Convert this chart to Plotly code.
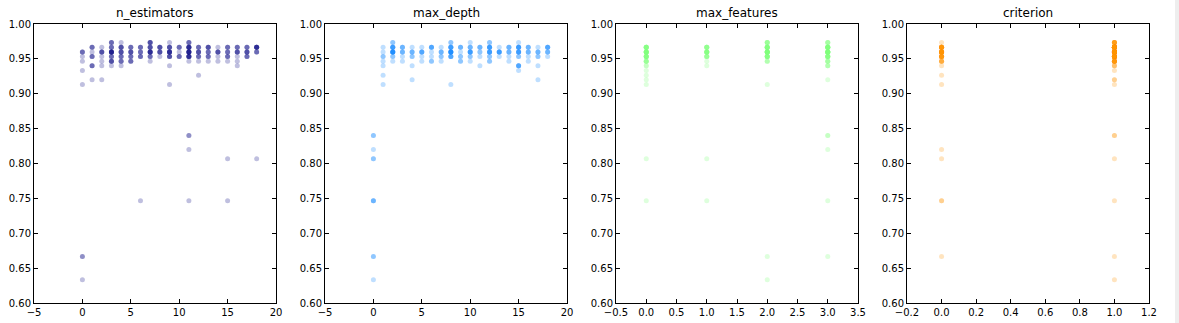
import plotly.graph_objects as go

# ---------------- data (x value, accuracy, number of overlapping trials) ----------------
n_est_x = [0, 0, 0, 0, 0, 0, 0,
           1, 1, 1, 1, 1,
           2, 2, 2, 2, 2, 2,
           3, 3, 3, 3, 3, 3,
           4, 4, 4, 4, 4, 4,
           5, 5, 5, 5,
           6, 6, 6, 6,
           7, 7, 7, 7, 7,
           8, 8, 8,
           9, 9, 9, 9, 9, 9,
           10, 10, 10,
           11, 11, 11, 11, 11, 11, 11, 11,
           12, 12, 12, 12, 12,
           13, 13, 13, 13,
           14, 14, 14, 14,
           15, 15, 15, 15, 15, 15,
           16, 16, 16, 16, 16,
           17, 17, 17,
           18, 18, 18]
n_est_acc = [0.96, 0.9533, 0.9467, 0.9333, 0.9133, 0.6667, 0.6333,
             0.9667, 0.96, 0.9533, 0.94, 0.92,
             0.9667, 0.96, 0.9533, 0.9467, 0.94, 0.92,
             0.9733, 0.9667, 0.96, 0.9533, 0.9467, 0.94,
             0.9733, 0.9667, 0.96, 0.9533, 0.9467, 0.94,
             0.9667, 0.96, 0.9533, 0.9467,
             0.9667, 0.96, 0.9533, 0.7467,
             0.9733, 0.9667, 0.96, 0.9533, 0.9467,
             0.9667, 0.96, 0.9533,
             0.9733, 0.9667, 0.96, 0.9533, 0.94, 0.9133,
             0.9667, 0.96, 0.9533,
             0.9733, 0.9667, 0.96, 0.9533, 0.9467, 0.84, 0.82, 0.7467,
             0.9667, 0.96, 0.9533, 0.9467, 0.9267,
             0.9667, 0.96, 0.9533, 0.9467,
             0.9667, 0.96, 0.9533, 0.9467,
             0.9667, 0.96, 0.9533, 0.9467, 0.8067, 0.7467,
             0.9667, 0.96, 0.9533, 0.9467, 0.94,
             0.9667, 0.96, 0.9533,
             0.9667, 0.96, 0.8067]
n_est_cnt = [3, 1, 1, 1, 1, 2, 1,
             3, 1, 3, 3, 1,
             1, 4, 1, 1, 1, 1,
             3, 3, 7, 3, 4, 1,
             1, 4, 4, 3, 3, 1,
             3, 4, 3, 3,
             3, 3, 3, 1,
             4, 4, 6, 3, 1,
             4, 4, 1,
             1, 4, 6, 4, 1, 1,
             3, 1, 3,
             3, 6, 7, 6, 1, 2, 1, 1,
             3, 4, 3, 1, 1,
             4, 3, 3, 1,
             1, 4, 1, 1,
             3, 3, 3, 1, 1, 1,
             3, 4, 1, 1, 1,
             3, 4, 3,
             6, 3, 1]

depth_x = [0, 0, 0, 0, 0, 0,
           1, 1, 1, 1, 1, 1, 1,
           2, 2, 2, 2, 2,
           3, 3, 3, 3,
           4, 4, 4, 4, 4,
           5, 5, 5, 5,
           6, 6, 6, 6,
           7, 7, 7, 7,
           8, 8, 8, 8, 8,
           9, 9, 9, 9,
           10, 10, 10, 10, 10,
           11, 11, 11, 11,
           12, 12, 12, 12, 12,
           13, 13, 13,
           14, 14, 14, 14,
           15, 15, 15, 15, 15, 15,
           16, 16, 16, 16,
           17, 17, 17, 17, 17,
           18, 18, 18]
depth_acc = [0.84, 0.82, 0.8067, 0.7467, 0.6667, 0.6333,
             0.9667, 0.96, 0.9533, 0.9467, 0.94, 0.9267, 0.9133,
             0.9733, 0.9667, 0.96, 0.9533, 0.9467,
             0.9667, 0.96, 0.9533, 0.9467,
             0.9667, 0.96, 0.9533, 0.94, 0.92,
             0.9667, 0.96, 0.9533, 0.9467,
             0.9667, 0.96, 0.9533, 0.9467,
             0.9667, 0.96, 0.9533, 0.9467,
             0.9733, 0.9667, 0.96, 0.9533, 0.9133,
             0.9667, 0.96, 0.9533, 0.9467,
             0.9733, 0.9667, 0.96, 0.9533, 0.9467,
             0.9667, 0.96, 0.9533, 0.94,
             0.9733, 0.9667, 0.96, 0.9533, 0.9467,
             0.9667, 0.96, 0.9533,
             0.9667, 0.96, 0.9533, 0.9467,
             0.9733, 0.9667, 0.96, 0.9533, 0.94, 0.9333,
             0.9667, 0.96, 0.9533, 0.9467,
             0.9667, 0.96, 0.9533, 0.94, 0.92,
             0.9667, 0.96, 0.9533]
depth_cnt = [2, 1, 2, 3, 2, 1,
             1, 1, 2, 1, 1, 1, 1,
             2, 5, 7, 2, 1,
             3, 3, 1, 1,
             1, 3, 2, 1, 1,
             1, 4, 1, 1,
             4, 1, 1, 2,
             1, 3, 2, 1,
             2, 5, 7, 4, 1,
             3, 1, 2, 2,
             1, 3, 5, 2, 1,
             3, 2, 1, 1,
             2, 5, 5, 2, 2,
             1, 5, 1,
             3, 3, 1, 1,
             1, 5, 5, 2, 4, 1,
             3, 3, 1, 1,
             1, 3, 2, 1, 1,
             4, 3, 1]

feat_x = [0, 0, 0, 0, 0, 0, 0, 0, 0, 0, 0,
          1, 1, 1, 1, 1, 1, 1,
          2, 2, 2, 2, 2, 2, 2, 2,
          3, 3, 3, 3, 3, 3, 3, 3, 3, 3, 3]
feat_acc = [0.9667, 0.96, 0.9533, 0.9467, 0.94, 0.9333, 0.9267, 0.92, 0.9133, 0.8067, 0.7467,
            0.9667, 0.96, 0.9533, 0.9467, 0.94, 0.8067, 0.7467,
            0.9733, 0.9667, 0.96, 0.9533, 0.9467, 0.9133, 0.6667, 0.6333,
            0.9733, 0.9667, 0.96, 0.9533, 0.9467, 0.94, 0.92, 0.84, 0.82, 0.7467, 0.6667]
feat_cnt = [8, 10, 8, 5, 2, 1, 1, 1, 1, 1, 1,
            6, 8, 5, 1, 1, 1, 1,
            5, 9, 12, 8, 3, 1, 1, 1,
            4, 10, 12, 8, 4, 3, 1, 2, 1, 1, 1]

crit_x = [0, 0, 0, 0, 0, 0, 0, 0, 0, 0, 0, 0,
          1, 1, 1, 1, 1, 1, 1, 1, 1, 1, 1, 1, 1, 1]
crit_acc = [0.9733, 0.9667, 0.96, 0.9533, 0.9467, 0.94, 0.9267, 0.9133, 0.82, 0.8067, 0.7467, 0.6667,
            0.9733, 0.9667, 0.96, 0.9533, 0.9467, 0.94, 0.9333, 0.92, 0.9133, 0.84, 0.8067, 0.7467, 0.6667, 0.6333]
crit_cnt = [1, 12, 15, 10, 5, 1, 1, 1, 1, 1, 2, 1,
            8, 31, 36, 24, 11, 3, 1, 2, 1, 2, 1, 1, 1, 1]

titles = ["n_estimators", "max_depth", "max_features", "criterion"]
colors = ["rgb(0,0,128)", "rgb(0,128,255)", "rgb(124,255,121)", "rgb(255,148,0)"]
series = [(n_est_x, n_est_acc, n_est_cnt),
          (depth_x, depth_acc, depth_cnt),
          (feat_x, feat_acc, feat_cnt),
          (crit_x, crit_acc, crit_cnt)]

x_ranges = [[-5, 20], [-5, 20], [-0.5, 3.5], [-0.2, 1.2]]
x_ticks = [[-5, 0, 5, 10, 15, 20], [-5, 0, 5, 10, 15, 20],
           [-0.5, 0, 0.5, 1, 1.5, 2, 2.5, 3, 3.5],
           [-0.2, 0, 0.2, 0.4, 0.6, 0.8, 1.0, 1.2]]
x_fmt = ["d", "d", ".1f", ".1f"]
y_ticks = [0.60, 0.65, 0.70, 0.75, 0.80, 0.85, 0.90, 0.95, 1.00]

# ---------------- layout ----------------
W, H = 1179, 323
lefts = [34, 325, 616, 907]
widths = 242
top_px, bot_px = 24, 303

fig = go.Figure()
font = dict(family="DejaVu Sans", size=10, color="black")

for i, ((xs, ys, cs), col) in enumerate(zip(series, colors)):
    ex, ey = [], []
    for x, y, c in zip(xs, ys, cs):
        ex += [x] * c
        ey += [y] * c
    ax = "" if i == 0 else str(i + 1)
    fig.add_trace(go.Scatter(
        x=ex, y=ey, mode="markers", xaxis="x" + ax, yaxis="y" + ax,
        marker=dict(size=5, color=col, opacity=0.25, line=dict(width=0)),
        showlegend=False, hoverinfo="x+y"))
    common = dict(showgrid=False, zeroline=False, showline=True, linecolor="black",
                  linewidth=1, mirror="allticks", ticks="inside", ticklen=4,
                  tickcolor="black", tickwidth=1, tickfont=font, automargin=False)
    xa = dict(domain=[lefts[i] / W, (lefts[i] + widths) / W], range=x_ranges[i],
              tickmode="array", tickvals=x_ticks[i], tickformat=x_fmt[i],
              anchor="y" + ax, **common)
    ya = dict(domain=[1 - bot_px / H, 1 - top_px / H], range=[0.6, 1.0],
              tickmode="array", tickvals=y_ticks, tickformat=".2f",
              anchor="x" + ax, **common)
    fig.layout["xaxis" + ax] = xa
    fig.layout["yaxis" + ax] = ya
    fig.add_annotation(text=titles[i], xref="paper", yref="paper",
                       x=(lefts[i] + widths / 2) / W, y=1 - top_px / H,
                       xanchor="center", yanchor="bottom", yshift=2, showarrow=False,
                       font=dict(family="DejaVu Sans", size=12, color="black"))

fig.add_shape(type="rect", xref="paper", yref="paper", x0=1175 / W, x1=1, y0=0, y1=1,
              fillcolor="#eeeeee", line=dict(width=0), layer="below")

fig.update_layout(width=W, height=H,
                  margin=dict(l=0, r=0, t=0, b=0, pad=0, autoexpand=False),
                  paper_bgcolor="white", plot_bgcolor="white",
                  font=font)

fig.write_html("out.html")
